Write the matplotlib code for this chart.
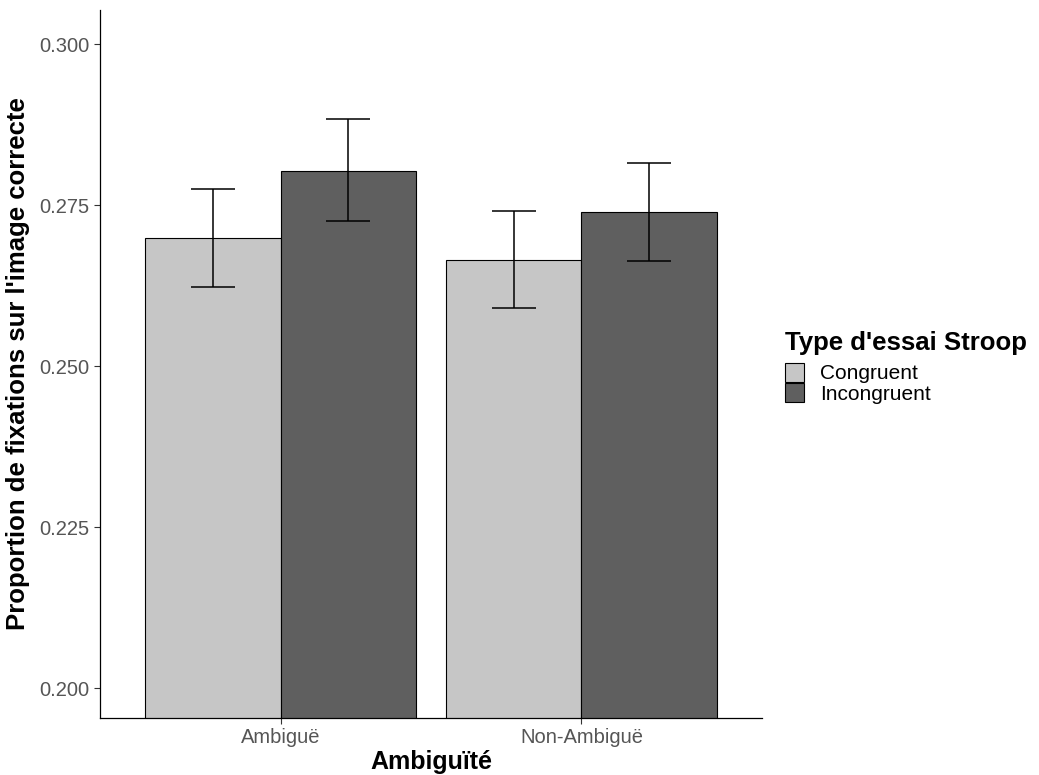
import matplotlib
matplotlib.use("Agg")
import matplotlib.pyplot as plt
import numpy as np
from matplotlib.patches import Patch

categories = ["Ambiguë", "Non-Ambiguë"]
groups = ["Congruent", "Incongruent"]
means = {"Congruent": [0.2699, 0.2665], "Incongruent": [0.2803, 0.2739]}
lower = {"Congruent": [0.2623, 0.2590], "Incongruent": [0.2725, 0.2663]}
upper = {"Congruent": [0.2775, 0.2741], "Incongruent": [0.2884, 0.2815]}
colors = {"Congruent": "#c6c6c6", "Incongruent": "#5f5f5f"}
yticks = [0.200, 0.225, 0.250, 0.275, 0.300]

plt.rcParams['font.family'] = ['Liberation Sans', 'DejaVu Sans']

fig = plt.figure(figsize=(10.39, 7.75), dpi=100)
ax = fig.add_axes([100/1039, 1-718/775, 662/1039, 708/775])

x = np.arange(1, len(categories)+1)
w = 0.45
for i, g in enumerate(groups):
    xpos = x + (i - 0.5) * w
    ax.bar(xpos, means[g], width=w, bottom=0, color=colors[g], edgecolor="black", linewidth=0.8)
    m = np.array(means[g]); lo = np.array(lower[g]); hi = np.array(upper[g])
    ax.errorbar(xpos, m, yerr=[m - lo, hi - m], fmt="none", ecolor="black",
                elinewidth=1.1, capsize=16, capthick=1.1)

ax.set_xlim(0.4, 2.6)
ax.set_ylim(0.19534, 0.30533)
ax.set_yticks(yticks)
ax.set_yticklabels([f"{v:.3f}" for v in yticks])
ax.set_xticks(x)
ax.set_xticklabels(categories)
ax.tick_params(axis="both", labelcolor="#555555", labelsize=14.5, length=4, width=0.8, color="#333333")
for s in ["top", "right"]:
    ax.spines[s].set_visible(False)
for s in ["left", "bottom"]:
    ax.spines[s].set_color("black")
    ax.spines[s].set_linewidth(0.9)

ax.set_xlabel("Ambiguïté", fontsize=18, fontweight="bold", labelpad=2)
ax.set_ylabel("Proportion de fixations sur l'image correcte", fontsize=18.5, fontweight="bold", labelpad=7)

handles = [Patch(facecolor=colors[g], edgecolor="black", linewidth=0.8) for g in groups]
leg = fig.legend(handles, groups, loc="upper left", bbox_to_anchor=(768/1039, 1-314/775),
                 frameon=False, title="Type d'essai Stroop", fontsize=15,
                 title_fontproperties={"size": 18.5, "weight": "bold"},
                 handlelength=0.95, handleheight=1.0, handletextpad=0.75, labelspacing=0.0,
                 alignment="left", borderpad=0.3)
leg._legend_box.sep = 6

fig.savefig("out.png", dpi=100)
